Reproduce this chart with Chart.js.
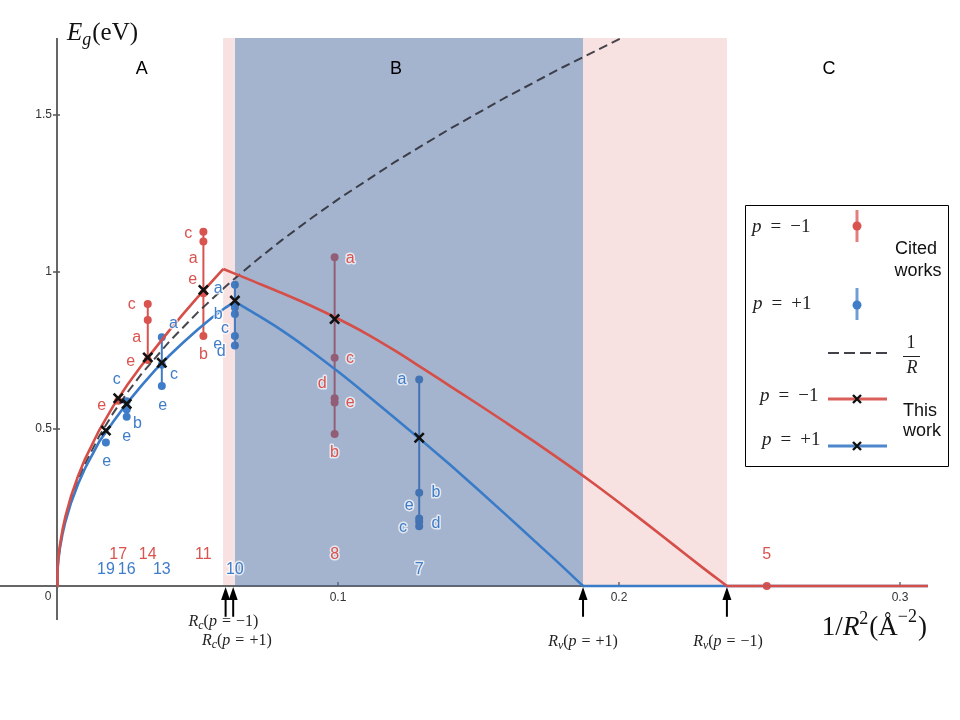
<!DOCTYPE html>
<html><head><meta charset="utf-8">
<script src="https://cdn.jsdelivr.net/npm/chart.js@4/dist/chart.umd.min.js"></script>
<style>html,body{margin:0;padding:0;background:#fff}#wrap{width:960px;height:720px;position:relative}</style>
</head><body><div id="wrap"><canvas id="c"></canvas></div>
<script>
// ---- axis ranges & ticks ----
const xRange = [-0.020285, 0.309964];
const yRange = [-0.10828, 1.745223];
const xTicks = [0.1, 0.2, 0.3];
const xTickLabels = ['0.1', '0.2', '0.3'];
const yTicks = [0.5, 1, 1.5];
const yTickLabels = ['0.5', '1', '1.5'];

// ---- regions ----
const pinkRegions = [[0.0591, 0.0633], [0.1872, 0.2384]];
const blueRegion = [0.0633, 0.1872];
const regionNames = ['A', 'B', 'C'];
const regionNameX = [0.0302, 0.1206, 0.2747];
const regionNameY = 1.646;

// ---- 1/R dashed curve ----
const dashX = [0,0.0002,0.0005,0.001,0.002,0.003,0.005,0.0075,0.01,0.015,0.02,0.025,0.03,0.04,0.05,0.06,0.07,0.08,0.09,0.10,0.12,0.14,0.16,0.18,0.2008];
const dashY = [0,0.0551,0.0871,0.1231,0.1741,0.2133,0.2753,0.3372,0.3894,0.4769,0.5507,0.6157,0.6745,0.7788,0.8707,0.9538,1.0303,1.1014,1.1682,1.2314,1.3489,1.4570,1.5576,1.6521,1.7449];

// ---- this work, p = -1 (red) ----
const redRiseX = [0,0.0002,0.0005,0.001,0.002,0.003,0.005,0.0075,0.01,0.015,0.02,0.025,0.03,0.035,0.04,0.045,0.05,0.055,0.0592];
const redRiseY = [0,0.0573,0.0906,0.1281,0.1811,0.2218,0.2864,0.3507,0.405,0.496,0.5728,0.6404,0.7015,0.7577,0.814,0.8676,0.919,0.9686,1.0097];
const redFallX = [0.0592,0.07,0.08,0.09,0.10,0.11,0.12,0.13,0.14,0.15,0.16,0.17,0.18,0.19,0.20,0.21,0.22,0.23,0.2384];
const redFallY = [1.0097,0.970,0.933,0.894,0.851,0.804,0.751,0.694,0.636,0.578,0.519,0.459,0.397,0.333,0.266,0.197,0.127,0.057,0];
const redFlatX = [0.2384, 0.31];
const redFlatY = [0, 0];

// ---- this work, p = +1 (blue) ----
const blueRiseX = [0,0.0002,0.0005,0.001,0.002,0.003,0.005,0.0075,0.01,0.015,0.02,0.025,0.03,0.035,0.04,0.045,0.05,0.055,0.06,0.0633];
const blueRiseY = [0,0.053,0.0839,0.1186,0.1677,0.2054,0.2652,0.3248,0.375,0.4593,0.5233,0.5834,0.6374,0.6885,0.734,0.7764,0.8162,0.8538,0.8868,0.9058];
const blueFallX = [0.0633,0.07,0.08,0.09,0.10,0.11,0.12,0.13,0.14,0.15,0.16,0.17,0.18,0.1872];
const blueFallY = [0.9058,0.870,0.814,0.751,0.683,0.611,0.537,0.462,0.385,0.306,0.225,0.143,0.061,0];
const blueFlatX = [0.1872, 0.31];
const blueFlatY = [0, 0];

// ---- this work markers ----
const redWorkX = [0.0218, 0.0323, 0.0521, 0.0988];
const redWorkY = [0.598, 0.728, 0.943, 0.850];
const blueWorkX = [0.0174, 0.0248, 0.0373, 0.0633, 0.1289];
const blueWorkY = [0.495, 0.580, 0.711, 0.909, 0.472];

// ---- cited works, p = -1 ----
const redRefs = ['17', '14', '11', '8', '5'];
const redCitedX = [0.0218, 0.0323, 0.0521, 0.0988, 0.2526];
const redCitedY = [[0.590], [0.898, 0.847, 0.720], [1.128, 1.097, 0.932, 0.796], [1.047, 0.727, 0.598, 0.584, 0.484], [0]];
const redLetters = [['e'], ['c', 'a', 'e'], ['c', 'a', 'e', 'b'], ['a', 'c', 'e', 'd', 'b'], []];
const redLetterX = [[0.0159], [0.0266, 0.0284, 0.0262], [0.0467, 0.0485, 0.0483, 0.0521], [0.1043, 0.1043, 0.1043, 0.0944, 0.0987], []];
const redLetterY = [[0.573], [0.895, 0.792, 0.714], [1.123, 1.044, 0.975, 0.736], [1.044, 0.723, 0.585, 0.646, 0.425], []];
const redRefY = 0.101;

// ---- cited works, p = +1 ----
const blueRefs = ['19', '16', '13', '10', '7'];
const blueCitedX = [0.0174, 0.0248, 0.0373, 0.0633, 0.1289];
const blueCitedY = [[0.457], [0.588, 0.562, 0.539], [0.792, 0.705, 0.637], [0.959, 0.887, 0.866, 0.796, 0.766], [0.658, 0.297, 0.215, 0.205, 0.190]];
const blueLetters = [['e'], ['c', 'b', 'e'], ['a', 'c', 'e'], ['a', 'b', 'c', 'e', 'd'], ['a', 'b', 'e', 'd', 'c']];
const blueLetterX = [[0.0177], [0.0213, 0.0286, 0.0248], [0.0414, 0.0416, 0.0376], [0.0574, 0.0574, 0.0598, 0.0572, 0.0584], [0.1228, 0.1349, 0.1253, 0.1349, 0.1231]];
const blueLetterY = [[0.396], [0.658, 0.516, 0.476], [0.837, 0.672, 0.573], [0.948, 0.863, 0.821, 0.768, 0.748], [0.656, 0.296, 0.255, 0.198, 0.185]];
const blueRefY = 0.051;

// ---- critical radii arrows ----
const arrowX = [0.0600, 0.0627, 0.1872, 0.2384];
const arrowSub = ['c', 'c', 'v', 'v'];
const arrowSign = ['−1', '+1', '+1', '−1'];
const arrowLabelX = [0.0592, 0.0640, 0.1872, 0.2388];
const arrowLabelY = [-0.1274, -0.1879, -0.1910, -0.1910];

// ---- colours ----
const RED = '#d64e48', BLUE = '#3a7bc8';
const RED_PT = '#d9534f', BLUE_PT = '#3f7dc9';
const SERIF = '"Liberation Serif", "Times New Roman", serif';
const SANS = '"Liberation Sans", Arial, sans-serif';

const pts = (xs, ys) => xs.map((x, i) => ({ x, y: ys[i] }));

const datasets = [];
// this-work markers (top)
datasets.push({ label: 'work-1', data: pts(redWorkX, redWorkY), pointStyle: 'crossRot', pointRadius: 6.5, pointBorderWidth: 2.6, borderColor: '#111', pointBorderColor: '#111', backgroundColor: '#111', showLine: false, order: 0 });
datasets.push({ label: 'work+1', data: pts(blueWorkX, blueWorkY), pointStyle: 'crossRot', pointRadius: 6.5, pointBorderWidth: 2.6, borderColor: '#111', pointBorderColor: '#111', backgroundColor: '#111', showLine: false, order: 0 });
// curves
const curve = (xs, ys, color, order, mono) => ({ data: pts(xs, ys), showLine: true, borderColor: color, borderWidth: 2.6, pointRadius: 0, tension: mono ? 0.4 : 0, cubicInterpolationMode: mono ? 'monotone' : 'default', fill: false, order });
datasets.push(curve(redRiseX, redRiseY, RED, 1, false));
datasets.push(curve(redFallX, redFallY, RED, 1, true));
datasets.push(curve(redFlatX, redFlatY, RED, 1, false));
datasets.push(curve(blueRiseX, blueRiseY, BLUE, 2, false));
datasets.push(curve(blueFallX, blueFallY, BLUE, 2, true));
datasets.push(curve(blueFlatX, blueFlatY, BLUE, 2, false));
datasets.push({ data: pts(dashX, dashY), showLine: true, borderColor: 'rgba(45,45,55,0.88)', borderWidth: 2, borderDash: [9, 5], pointRadius: 0, tension: 0, fill: false, order: 3 });
// blue region overlay
datasets.push({ data: [{ x: blueRegion[0], y: yRange[1] }, { x: blueRegion[1], y: yRange[1] }], showLine: true, borderWidth: 0, borderColor: 'rgba(0,0,0,0)', pointRadius: 0, fill: 'origin', backgroundColor: 'rgba(73,105,157,0.5)', order: 5 });
// cited error bars
const cited = (x, ys, color) => ({ data: ys.map(y => ({ x, y })), showLine: true, borderColor: color, borderWidth: 2, pointRadius: 4, pointBackgroundColor: color, pointBorderColor: color, pointBorderWidth: 0, tension: 0, fill: false, order: 10 });
redCitedX.forEach((x, i) => datasets.push(cited(x, redCitedY[i], RED_PT)));
blueCitedX.forEach((x, i) => datasets.push(cited(x, blueCitedY[i], BLUE_PT)));

function rich(ctx, segs, x, y, align) {
  let w = 0;
  for (const s of segs) { if (typeof s === 'number') { w += s; } else { ctx.font = s[1]; w += ctx.measureText(s[0]).width; } }
  let cx = align === 'center' ? x - w / 2 : (align === 'right' ? x - w : x);
  ctx.textAlign = 'left'; ctx.textBaseline = 'alphabetic';
  for (const s of segs) {
    if (typeof s === 'number') { cx += s; continue; }
    ctx.font = s[1]; ctx.fillText(s[0], cx, y + (s[2] || 0)); cx += ctx.measureText(s[0]).width;
  }
}
function halo(ctx, t, x, y, color, font) {
  ctx.font = font; ctx.textAlign = 'center'; ctx.textBaseline = 'middle';
  ctx.lineJoin = 'round'; ctx.lineWidth = 3; ctx.strokeStyle = 'rgba(255,255,255,0.7)';
  ctx.strokeText(t, x, y); ctx.fillStyle = color; ctx.fillText(t, x, y);
}
function cross(ctx, x, y, r) {
  ctx.beginPath(); ctx.moveTo(x - r, y - r); ctx.lineTo(x + r, y + r); ctx.moveTo(x - r, y + r); ctx.lineTo(x + r, y - r); ctx.stroke();
}

const decor = {
  id: 'decor',
  beforeDatasetsDraw(chart) {
    const { ctx, chartArea: ca } = chart; const xs = chart.scales.x, ys = chart.scales.y;
    const X = v => xs.getPixelForValue(v), Y = v => ys.getPixelForValue(v);
    ctx.save();
    ctx.fillStyle = '#f7e1e1';
    for (const [a, b] of pinkRegions) ctx.fillRect(X(a), ca.top, X(b) - X(a), Y(0) - ca.top);
    // axes
    ctx.strokeStyle = '#666'; ctx.lineWidth = 2;
    ctx.beginPath(); ctx.moveTo(ca.left, Y(0)); ctx.lineTo(ca.right, Y(0));
    ctx.moveTo(X(0), ca.top); ctx.lineTo(X(0), ca.bottom); ctx.stroke();
    ctx.lineWidth = 1.3; ctx.strokeStyle = '#555';
    ctx.beginPath();
    xTicks.forEach(t => { ctx.moveTo(X(t), Y(0) - 4); ctx.lineTo(X(t), Y(0)); });
    yTicks.forEach(t => { ctx.moveTo(X(0) - 4, Y(t)); ctx.lineTo(X(0) + 3, Y(t)); });
    ctx.stroke();
    ctx.fillStyle = '#333'; ctx.font = '12px ' + SANS; ctx.textBaseline = 'middle';
    ctx.textAlign = 'center';
    xTicks.forEach((t, i) => ctx.fillText(xTickLabels[i], X(t), Y(0) + 12));
    ctx.fillText('0', X(0) - 9, Y(0) + 11);
    ctx.textAlign = 'right';
    yTicks.forEach((t, i) => ctx.fillText(yTickLabels[i], X(0) - 5, Y(t)));
    ctx.restore();
  },
  afterDatasetsDraw(chart) {
    const { ctx } = chart; const xs = chart.scales.x, ys = chart.scales.y;
    const X = v => xs.getPixelForValue(v), Y = v => ys.getPixelForValue(v);
    ctx.save();
    // region names
    ctx.fillStyle = '#000'; ctx.font = '18px ' + SANS; ctx.textAlign = 'center'; ctx.textBaseline = 'middle';
    regionNames.forEach((n, i) => ctx.fillText(n, X(regionNameX[i]), Y(regionNameY)));
    // letters
    const LF = '16px ' + SANS;
    redLetters.forEach((col, i) => col.forEach((l, j) => halo(ctx, l, X(redLetterX[i][j]), Y(redLetterY[i][j]), RED_PT, LF)));
    blueLetters.forEach((col, i) => col.forEach((l, j) => halo(ctx, l, X(blueLetterX[i][j]), Y(blueLetterY[i][j]), BLUE_PT, LF)));
    // reference numbers
    redRefs.forEach((r, i) => halo(ctx, r, X(redCitedX[i]), Y(redRefY), RED_PT, LF));
    blueRefs.forEach((r, i) => halo(ctx, r, X(blueCitedX[i]), Y(blueRefY), BLUE_PT, LF));
    // arrows
    ctx.fillStyle = '#000'; ctx.strokeStyle = '#000'; ctx.lineWidth = 2;
    arrowX.forEach(a => {
      const px = X(a), top = Y(0) + 1, bot = Y(-0.098);
      ctx.beginPath(); ctx.moveTo(px, top + 10); ctx.lineTo(px, bot); ctx.stroke();
      ctx.beginPath(); ctx.moveTo(px, top); ctx.lineTo(px - 4.5, top + 13); ctx.lineTo(px + 4.5, top + 13); ctx.closePath(); ctx.fill();
    });
    ctx.fillStyle = '#222';
    arrowX.forEach((a, i) => {
      rich(ctx, [['R', 'italic 16px ' + SERIF], ['' + arrowSub[i], 'italic 12px ' + SERIF, 3], ['(', '16px ' + SERIF], ['p', 'italic 16px ' + SERIF], 5, ['=', '16px ' + SERIF], 5, [arrowSign[i] + ')', '16px ' + SERIF]],
        X(arrowLabelX[i]), Y(arrowLabelY[i]), 'center');
    });
    // axis titles
    ctx.fillStyle = '#111';
    rich(ctx, [['E', 'italic 25px ' + SERIF], ['g', 'italic 18px ' + SERIF, 5], 1, ['(eV)', '25px ' + SERIF]], 67, 40, 'left');
    rich(ctx, [['1/', '27px ' + SERIF], ['R', 'italic 27px ' + SERIF], ['2', '18px ' + SERIF, -11], 1, ['(Å', '27px ' + SERIF], ['−2', '18px ' + SERIF, -13], 1, [')', '27px ' + SERIF]], 927, 635, 'right');
    // legend
    ctx.strokeStyle = '#000'; ctx.lineWidth = 1;
    ctx.strokeRect(745.5, 205.5, 203, 261);
    ctx.fillStyle = '#222';
    const pl = (sign, x, y) => rich(ctx, [['p', 'italic 19px ' + SERIF], 9, ['=', '19px ' + SERIF], 9, [sign, '19px ' + SERIF]], x, y, 'left');
    pl('−1', 752, 232); pl('+1', 753, 309); pl('−1', 760, 401); pl('+1', 762, 445);
    // cited markers
    ctx.lineWidth = 3;
    ctx.strokeStyle = 'rgba(217,83,79,0.75)'; ctx.beginPath(); ctx.moveTo(857, 210); ctx.lineTo(857, 242); ctx.stroke();
    ctx.fillStyle = RED_PT; ctx.beginPath(); ctx.arc(857, 226, 4.5, 0, 2 * Math.PI); ctx.fill();
    ctx.strokeStyle = 'rgba(63,125,201,0.75)'; ctx.beginPath(); ctx.moveTo(857, 288); ctx.lineTo(857, 320); ctx.stroke();
    ctx.fillStyle = BLUE_PT; ctx.beginPath(); ctx.arc(857, 305, 4.5, 0, 2 * Math.PI); ctx.fill();
    // dashed
    ctx.strokeStyle = 'rgba(45,45,55,0.9)'; ctx.lineWidth = 2.2; ctx.setLineDash([11, 5]);
    ctx.beginPath(); ctx.moveTo(828, 353); ctx.lineTo(888, 353); ctx.stroke(); ctx.setLineDash([]);
    ctx.fillStyle = '#222'; ctx.font = '18px ' + SERIF; ctx.textAlign = 'center'; ctx.textBaseline = 'alphabetic';
    ctx.fillText('1', 911, 348);
    ctx.font = 'italic 18px ' + SERIF; ctx.fillText('R', 912, 373);
    ctx.lineWidth = 1; ctx.strokeStyle = '#222'; ctx.beginPath(); ctx.moveTo(903, 356.5); ctx.lineTo(920, 356.5); ctx.stroke();
    // this work markers
    ctx.lineWidth = 3;
    ctx.strokeStyle = 'rgba(214,78,72,0.9)'; ctx.beginPath(); ctx.moveTo(828, 399); ctx.lineTo(887, 399); ctx.stroke();
    ctx.strokeStyle = 'rgba(58,123,200,0.9)'; ctx.beginPath(); ctx.moveTo(828, 446); ctx.lineTo(887, 446); ctx.stroke();
    ctx.strokeStyle = '#111'; ctx.lineWidth = 2.4; cross(ctx, 857, 399, 4); cross(ctx, 857, 446, 4);
    // legend texts
    ctx.fillStyle = '#111'; ctx.font = '18px ' + SANS; ctx.textAlign = 'center'; ctx.textBaseline = 'alphabetic';
    ctx.fillText('Cited', 916, 254); ctx.fillText('works', 918, 276);
    ctx.fillText('This', 920, 416); ctx.fillText('work', 922, 436);
    ctx.restore();
  }
};

new Chart(document.getElementById('c'), {
  type: 'scatter',
  data: { datasets },
  options: {
    responsive: true, maintainAspectRatio: false, animation: false,
    layout: { autoPadding: false, padding: { left: 0, right: 32, top: 38, bottom: 100 } },
    scales: {
      x: { type: 'linear', min: xRange[0], max: xRange[1], display: false },
      y: { type: 'linear', min: yRange[0], max: yRange[1], display: false }
    },
    plugins: { legend: { display: false }, tooltip: { enabled: false } }
  },
  plugins: [decor]
});
</script></body></html>
